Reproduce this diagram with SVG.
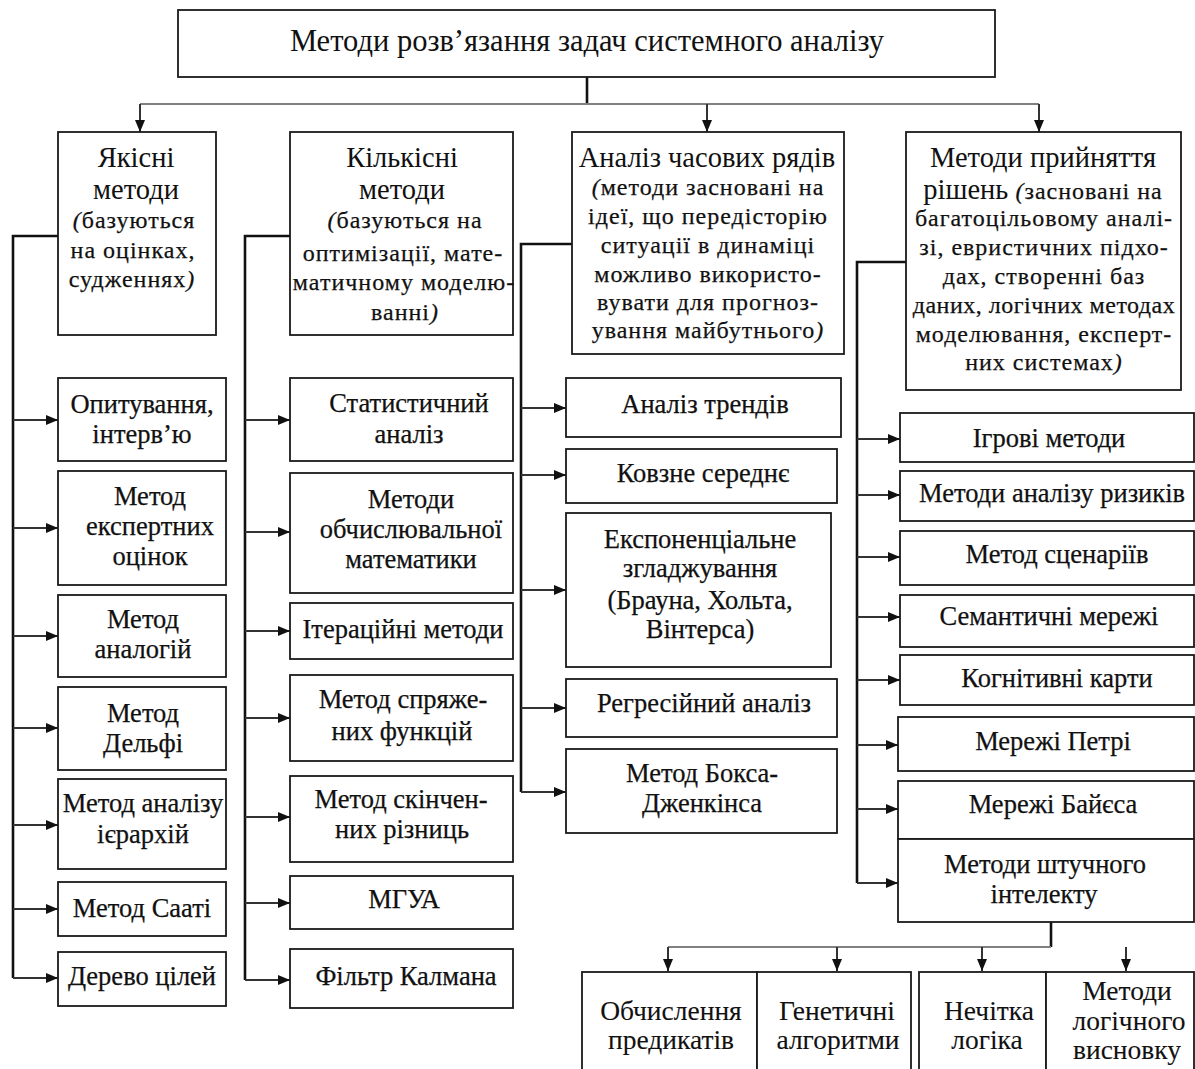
<svg xmlns="http://www.w3.org/2000/svg" width="1195" height="1069" viewBox="0 0 1195 1069">
  <style>
    rect.box { fill: #ffffff; stroke: #1a1a1a; stroke-width: 1.8; }
    text { font-family: "Liberation Serif", "Times New Roman", serif; fill: #111111; stroke: #111111; stroke-width: 0.25; text-anchor: middle; }
    .title { font-size: 30.5px; stroke-width: 0; }
    .head { font-size: 28.5px; letter-spacing: 0; stroke-width: 0; }
    .sub { font-size: 24px; letter-spacing: 1px; }
    .tight { letter-spacing: 0.5px; }
    .item { font-size: 26.5px; }
    .low { font-size: 27.5px; stroke-width: 0.1; }
    .it { font-style: italic; }
    .trunk { fill: none; stroke: #111111; stroke-width: 2.6; }
    .branch { fill: none; stroke: #333333; stroke-width: 2; }
    .rail { fill: none; stroke: #808080; stroke-width: 2; }
  </style>
  <defs>
    <marker id="ah" viewBox="0 0 12 10" refX="12" refY="5" markerWidth="12" markerHeight="10" markerUnits="userSpaceOnUse" orient="auto">
      <path d="M0,0 L12,5 L0,10 z" fill="#111111"/>
    </marker>
  </defs>

  <!-- connectors -->
  <g id="connectors">
    <path class="trunk" d="M587,77 V104"/>
    <path class="rail" d="M140,104 H1039"/>
    <path class="branch" d="M140,104 V132" marker-end="url(#ah)"/>
    <path class="branch" d="M707,104 V132" marker-end="url(#ah)"/>
    <path class="branch" d="M1039,104 V132" marker-end="url(#ah)"/>

    <!-- qualitative methods rail -->
    <path class="trunk" d="M58,236 H13 V978"/>
    <path class="branch" d="M13,420 H58" marker-end="url(#ah)"/>
    <path class="branch" d="M13,528 H58" marker-end="url(#ah)"/>
    <path class="branch" d="M13,636 H58" marker-end="url(#ah)"/>
    <path class="branch" d="M13,728 H58" marker-end="url(#ah)"/>
    <path class="branch" d="M13,825 H58" marker-end="url(#ah)"/>
    <path class="branch" d="M13,909 H58" marker-end="url(#ah)"/>
    <path class="branch" d="M13,978 H58" marker-end="url(#ah)"/>

    <!-- quantitative methods rail -->
    <path class="trunk" d="M290,236 H245 V980"/>
    <path class="branch" d="M245,420 H290" marker-end="url(#ah)"/>
    <path class="branch" d="M245,532 H290" marker-end="url(#ah)"/>
    <path class="branch" d="M245,631 H290" marker-end="url(#ah)"/>
    <path class="branch" d="M245,718 H290" marker-end="url(#ah)"/>
    <path class="branch" d="M245,817 H290" marker-end="url(#ah)"/>
    <path class="branch" d="M245,903 H290" marker-end="url(#ah)"/>
    <path class="branch" d="M245,980 H290" marker-end="url(#ah)"/>

    <!-- time series rail -->
    <path class="trunk" d="M572,244 H521 V792"/>
    <path class="branch" d="M521,408 H566" marker-end="url(#ah)"/>
    <path class="branch" d="M521,475 H566" marker-end="url(#ah)"/>
    <path class="branch" d="M521,590 H566" marker-end="url(#ah)"/>
    <path class="branch" d="M521,708 H566" marker-end="url(#ah)"/>
    <path class="branch" d="M521,792 H566" marker-end="url(#ah)"/>

    <!-- decision making rail -->
    <path class="trunk" d="M906,262 H857 V883"/>
    <path class="branch" d="M857,439 H900" marker-end="url(#ah)"/>
    <path class="branch" d="M857,495 H900" marker-end="url(#ah)"/>
    <path class="branch" d="M857,557 H900" marker-end="url(#ah)"/>
    <path class="branch" d="M857,617 H900" marker-end="url(#ah)"/>
    <path class="branch" d="M857,680 H900" marker-end="url(#ah)"/>
    <path class="branch" d="M857,745 H898" marker-end="url(#ah)"/>
    <path class="branch" d="M857,809 H898" marker-end="url(#ah)"/>
    <path class="branch" d="M857,883 H898" marker-end="url(#ah)"/>

    <!-- AI methods fan-out -->
    <path class="trunk" d="M1051,922 V947"/>
    <path class="rail" d="M668,947 H1051"/>
    <path class="branch" d="M668,947 V971" marker-end="url(#ah)"/>
    <path class="branch" d="M837,947 V971" marker-end="url(#ah)"/>
    <path class="branch" d="M982,947 V971" marker-end="url(#ah)"/>
    <path class="branch" d="M1126,947 V971" marker-end="url(#ah)"/>
  </g>

  <!-- root -->
  <g id="root">
    <rect class="box" x="178" y="10" width="817" height="67"/>
    <text class="title" x="587" y="51">Методи розв’язання задач системного аналізу</text>
  </g>

  <!-- column headers -->
  <g id="qualitative">
    <rect class="box" x="58" y="132" width="158" height="203"/>
    <text class="head" x="136" y="167">Якісні</text>
    <text class="head" x="136" y="199">методи</text>
    <text class="sub" x="134" y="228"><tspan class="it">(</tspan>базуються</text>
    <text class="sub" x="133" y="258">на оцінках,</text>
    <text class="sub" x="132" y="287">судженнях<tspan class="it">)</tspan></text>
  </g>
  <g id="quantitative">
    <rect class="box" x="290" y="132" width="223" height="203"/>
    <text class="head" x="402" y="167">Кількісні</text>
    <text class="head" x="402" y="199">методи</text>
    <text class="sub" x="405" y="228"><tspan class="it">(</tspan>базуються на</text>
    <text class="sub" x="403" y="261">оптимізації, мате-</text>
    <text class="sub" x="404" y="290">матичному моделю-</text>
    <text class="sub" x="405" y="320">ванні<tspan class="it">)</tspan></text>
  </g>
  <g id="time-series">
    <rect class="box" x="572" y="132" width="272" height="222"/>
    <text class="head" x="707" y="167">Аналіз часових рядів</text>
    <text class="sub" x="708" y="195"><tspan class="it">(</tspan>методи засновані на</text>
    <text class="sub" x="708" y="224">ідеї, що передісторію</text>
    <text class="sub" x="708" y="253">ситуації в динаміці</text>
    <text class="sub" x="708" y="282">можливо використо-</text>
    <text class="sub" x="708" y="310">вувати для прогноз-</text>
    <text class="sub" x="708" y="338">ування майбутнього<tspan class="it">)</tspan></text>
  </g>
  <g id="decision-making">
    <rect class="box" x="906" y="132" width="275" height="258"/>
    <text class="head" x="1043" y="167">Методи прийняття</text>
    <text class="sub" x="1043" y="199"><tspan class="head">рішень </tspan><tspan class="it">(</tspan>засновані на</text>
    <text class="sub" x="1044" y="226">багатоцільовому аналі-</text>
    <text class="sub" x="1044" y="255">зі, евристичних підхо-</text>
    <text class="sub" x="1044" y="284">дах, створенні баз</text>
    <text class="sub tight" x="1044" y="313">даних, логічних методах</text>
    <text class="sub" x="1044" y="342">моделювання, експерт-</text>
    <text class="sub" x="1044" y="370">них системах<tspan class="it">)</tspan></text>
  </g>

  <!-- qualitative methods -->
  <g id="survey">
    <rect class="box" x="58" y="378" width="168" height="83"/>
    <text class="item" x="142" y="413">Опитування,</text>
    <text class="item" x="142" y="443">інтерв’ю</text>
  </g>
  <g id="expert-estimates">
    <rect class="box" x="58" y="471" width="168" height="114"/>
    <text class="item" x="150" y="505">Метод</text>
    <text class="item" x="150" y="535">експертних</text>
    <text class="item" x="150" y="565">оцінок</text>
  </g>
  <g id="analogies">
    <rect class="box" x="58" y="595" width="168" height="82"/>
    <text class="item" x="143" y="628">Метод</text>
    <text class="item" x="143" y="658">аналогій</text>
  </g>
  <g id="delphi">
    <rect class="box" x="58" y="687" width="168" height="83"/>
    <text class="item" x="143" y="722">Метод</text>
    <text class="item" x="143" y="752">Дельфі</text>
  </g>
  <g id="ahp">
    <rect class="box" x="58" y="779" width="168" height="90"/>
    <text class="item" x="143" y="812">Метод аналізу</text>
    <text class="item" x="143" y="843">ієрархій</text>
  </g>
  <g id="saaty">
    <rect class="box" x="58" y="882" width="168" height="54"/>
    <text class="item" x="142" y="917">Метод Сааті</text>
  </g>
  <g id="goal-tree">
    <rect class="box" x="58" y="952" width="168" height="54"/>
    <text class="item" x="142" y="985">Дерево цілей</text>
  </g>

  <!-- quantitative methods -->
  <g id="statistics">
    <rect class="box" x="290" y="378" width="223" height="83"/>
    <text class="item" x="409" y="412">Статистичний</text>
    <text class="item" x="409" y="443">аналіз</text>
  </g>
  <g id="numerical-math">
    <rect class="box" x="290" y="473" width="223" height="120"/>
    <text class="item" x="411" y="508">Методи</text>
    <text class="item" x="411" y="538">обчислювальної</text>
    <text class="item" x="411" y="568">математики</text>
  </g>
  <g id="iterative">
    <rect class="box" x="290" y="603" width="223" height="56"/>
    <text class="item" x="403" y="638">Ітераційні методи</text>
  </g>
  <g id="adjoint">
    <rect class="box" x="290" y="675" width="223" height="86"/>
    <text class="item" x="403" y="708">Метод спряже-</text>
    <text class="item" x="402" y="740">них функцій</text>
  </g>
  <g id="finite-differences">
    <rect class="box" x="290" y="776" width="223" height="86"/>
    <text class="item" x="401" y="808">Метод скінчен-</text>
    <text class="item" x="402" y="838">них різниць</text>
  </g>
  <g id="gmdh">
    <rect class="box" x="290" y="876" width="223" height="53"/>
    <text class="item" x="404" y="908">МГУА</text>
  </g>
  <g id="kalman">
    <rect class="box" x="290" y="949" width="223" height="59"/>
    <text class="item" x="406" y="985">Фільтр Калмана</text>
  </g>

  <!-- time series methods -->
  <g id="trends">
    <rect class="box" x="566" y="378" width="275" height="59"/>
    <text class="item" x="705" y="413">Аналіз трендів</text>
  </g>
  <g id="moving-average">
    <rect class="box" x="566" y="449" width="271" height="54"/>
    <text class="item" x="703" y="482">Ковзне середнє</text>
  </g>
  <g id="exp-smoothing">
    <rect class="box" x="566" y="513" width="265" height="154"/>
    <text class="item" x="700" y="548">Експоненціальне</text>
    <text class="item" x="700" y="577">згладжування</text>
    <text class="item" x="700" y="609">(Брауна, Хольта,</text>
    <text class="item" x="700" y="638">Вінтерса)</text>
  </g>
  <g id="regression">
    <rect class="box" x="566" y="679" width="271" height="58"/>
    <text class="item" x="704" y="712">Регресійний аналіз</text>
  </g>
  <g id="box-jenkins">
    <rect class="box" x="566" y="749" width="271" height="84"/>
    <text class="item" x="702" y="782">Метод Бокса-</text>
    <text class="item" x="702" y="812">Дженкінса</text>
  </g>

  <!-- decision making methods -->
  <g id="game-methods">
    <rect class="box" x="900" y="413" width="294" height="49"/>
    <text class="item" x="1049" y="447">Ігрові методи</text>
  </g>
  <g id="risk-analysis">
    <rect class="box" x="900" y="471" width="294" height="50"/>
    <text class="item" x="1052" y="502">Методи аналізу ризиків</text>
  </g>
  <g id="scenarios">
    <rect class="box" x="900" y="531" width="294" height="54"/>
    <text class="item" x="1057" y="563">Метод сценаріїв</text>
  </g>
  <g id="semantic-nets">
    <rect class="box" x="900" y="595" width="294" height="52"/>
    <text class="item" x="1049" y="625">Семантичні мережі</text>
  </g>
  <g id="cognitive-maps">
    <rect class="box" x="900" y="655" width="294" height="50"/>
    <text class="item" x="1057" y="687">Когнітивні карти</text>
  </g>
  <g id="petri-nets">
    <rect class="box" x="898" y="717" width="296" height="54"/>
    <text class="item" x="1053" y="750">Мережі Петрі</text>
  </g>
  <g id="bayes-nets">
    <rect class="box" x="898" y="781" width="296" height="58"/>
    <text class="item" x="1053" y="813">Мережі Байєса</text>
  </g>
  <g id="ai-methods">
    <rect class="box" x="898" y="839" width="296" height="83"/>
    <text class="item" x="1045" y="873">Методи штучного</text>
    <text class="item" x="1044" y="903">інтелекту</text>
  </g>

  <!-- AI sub-methods -->
  <g id="predicate-calculus">
    <rect class="box" x="582" y="972" width="175" height="120"/>
    <text class="low" x="671" y="1020">Обчислення</text>
    <text class="low" x="671" y="1049">предикатів</text>
  </g>
  <g id="genetic-algorithms">
    <rect class="box" x="757" y="972" width="154" height="120"/>
    <text class="low" x="837" y="1020">Генетичні</text>
    <text class="low" x="838" y="1049">алгоритми</text>
  </g>
  <g id="fuzzy-logic">
    <rect class="box" x="919" y="972" width="127" height="120"/>
    <text class="low" x="989" y="1020">Нечітка</text>
    <text class="low" x="987" y="1049">логіка</text>
  </g>
  <g id="logical-inference">
    <rect class="box" x="1046" y="972" width="148" height="120"/>
    <text class="low" x="1127" y="1000">Методи</text>
    <text class="low" x="1129" y="1030">логічного</text>
    <text class="low" x="1127" y="1059">висновку</text>
  </g>
</svg>
